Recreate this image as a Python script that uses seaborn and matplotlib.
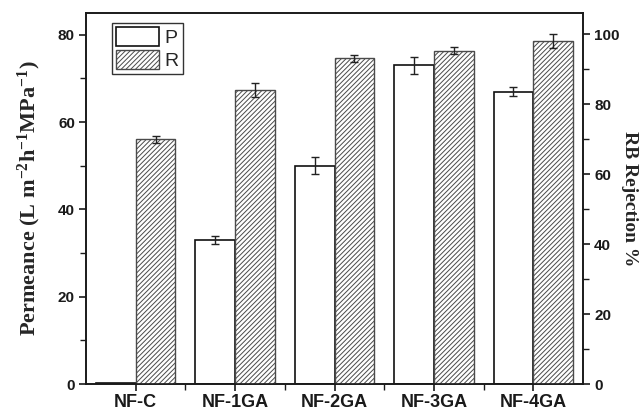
import numpy as np
import pandas as pd
import matplotlib
matplotlib.use("Agg")
import matplotlib.pyplot as plt
import seaborn as sns

# ---- data ----
categories = ["NF-C", "NF-1GA", "NF-2GA", "NF-3GA", "NF-4GA"]
permeance = [0.2, 33.0, 50.0, 73.0, 67.0]          # P, left axis
permeance_err = [0.0, 1.0, 2.0, 2.0, 1.0]
rejection = [70.0, 84.0, 93.1, 95.2, 98.0]         # R, right axis (%)
rejection_err = [1.0, 2.0, 1.0, 1.0, 2.0]
series = ["P", "R"]
left_ticks = [0, 20, 40, 60, 80]
right_ticks = [0, 20, 40, 60, 80, 100]

sns.set_theme(style="ticks")
plt.rcParams.update({
    "font.family": ["Liberation Sans", "DejaVu Sans"],
    "font.weight": "bold",
    "hatch.color": "#4a4a4a",
    "hatch.linewidth": 0.7,
    "axes.linewidth": 1.2,
    "axes.edgecolor": "#1a1a1a",
    "mathtext.fontset": "custom",
    "mathtext.rm": "Liberation Serif:bold",
    "mathtext.it": "Liberation Serif:bold",
    "mathtext.bf": "Liberation Serif:bold",
    "mathtext.default": "rm",
})

n = len(categories)
df_p = pd.DataFrame({"cat": categories * 2,
                     "series": ["P"] * n + ["R"] * n,
                     "value": permeance + [np.nan] * n})
df_r = pd.DataFrame({"cat": categories * 2,
                     "series": ["P"] * n + ["R"] * n,
                     "value": [np.nan] * n + rejection})

fig = plt.figure(figsize=(6.4, 4.13), dpi=100)
ax = fig.add_axes([86 / 640, 29 / 413, 497 / 640, 371 / 413])
ax2 = ax.twinx()

sns.barplot(data=df_p, x="cat", y="value", hue="series", hue_order=series,
            order=categories, palette=["white", "white"], edgecolor="#111111",
            linewidth=1.2, errorbar=None, legend=False, width=0.8, ax=ax)
sns.barplot(data=df_r, x="cat", y="value", hue="series", hue_order=series,
            order=categories, palette=["white", "white"], edgecolor="#4a4a4a",
            linewidth=1.0, errorbar=None, legend=False, width=0.8, ax=ax2)

for p in ax2.patches:
    p.set_hatch("///////")

# error bars placed at the bar centres computed by seaborn
def add_err(axis, vals, errs):
    for p in axis.patches:
        if p.get_height() != p.get_height():
            continue
        xc = p.get_x() + p.get_width() / 2
        i = int(round(xc))
        if errs[i] > 0:
            axis.errorbar(xc, vals[i], yerr=errs[i], fmt="none", ecolor="#222222",
                          elinewidth=1.0, capsize=3, capthick=1.0)

add_err(ax, permeance, permeance_err)
add_err(ax2, rejection, rejection_err)

ax.set_xlim(-0.5, 4.5)
ax.set_ylim(0, 85)
ax2.set_ylim(0, 106)
ax.set_yticks(left_ticks)
ax.set_yticks(np.arange(10, 85, 20), minor=True)
ax2.set_yticks(right_ticks)
ax2.set_yticks(np.arange(10, 106, 20), minor=True)
ax.set_xticks(range(n))
ax.set_xticklabels(categories)
ax.set_xticks([0.5, 1.5, 2.5, 3.5], minor=True)

for a in (ax, ax2):
    a.tick_params(axis="both", which="major", direction="out", length=5, width=1.2,
                  colors="#1a1a1a", pad=3)
    a.tick_params(axis="both", which="minor", direction="out", length=4, width=1.0,
                  colors="#1a1a1a")
    for s in a.spines.values():
        s.set_visible(True)
        s.set_linewidth(1.2)
ax.tick_params(axis="y", labelsize=11)
ax2.tick_params(axis="y", labelsize=11)
ax.tick_params(axis="x", labelsize=13, pad=2)
for lab in ax.get_xticklabels() + ax.get_yticklabels() + ax2.get_yticklabels():
    lab.set_fontweight("bold")

ax.set_xlabel("")
ax.set_ylabel("Permeance (L m$^{-2}$h$^{-1}$MPa$^{-1}$)", family="Liberation Serif",
              fontweight="bold", fontsize=16, labelpad=11)
ax2.set_ylabel("RB Rejection %", family="Liberation Serif", fontweight="bold",
               fontsize=14, rotation=270, labelpad=13)

handles = [ax.patches[0], ax2.patches[0]]
leg = ax2.legend(handles, series, loc="upper left",
                 bbox_to_anchor=(26 / 497, 1 - 10 / 371), borderaxespad=0,
                 frameon=True, fancybox=False, edgecolor="#333333", framealpha=1,
                 handlelength=2.2, handleheight=1.15, labelspacing=0.15,
                 borderpad=0.2, handletextpad=0.3,
                 prop={"family": "Liberation Sans", "size": 14, "weight": "normal"})
leg.get_frame().set_linewidth(1.0)

fig.savefig("out.png", dpi=100)
